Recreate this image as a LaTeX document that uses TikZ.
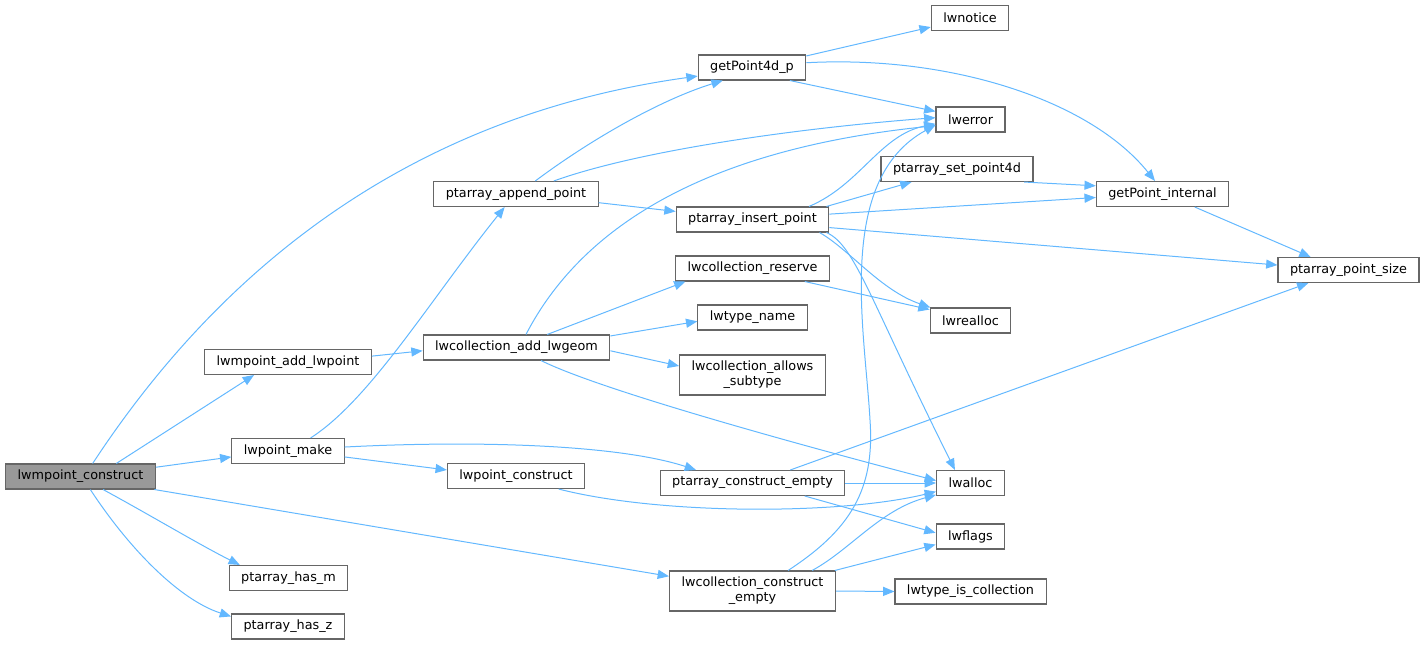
\documentclass[tikz,border=0pt]{standalone}
\usepackage{fontspec}
\setmainfont{DejaVu Sans}
\usetikzlibrary{arrows.meta}
\definecolor{edgeblue}{HTML}{63B8FF}
\definecolor{boxgray}{HTML}{666666}
\definecolor{rootgray}{HTML}{999999}

\begin{document}
\begin{tikzpicture}[x=0.75pt,y=-0.75pt,>={Triangle[length=8.5pt,width=6.8pt]},
  fn/.style={draw=boxgray,line width=0.8pt,fill=white,inner xsep=9pt,inner ysep=0pt,
    minimum height=18.75pt,font=\fontsize{9.6}{11.25}\selectfont,align=center},
  root/.style={fn,fill=rootgray},
  call/.style={->,edgeblue,line width=0.75pt}]
  \useasboundingbox (0,0) rectangle (1425,645);

  % column 0 and 1
  \node[root] (lwmpc) at (80.5,476.5) {lwmpoint\_construct};
  \node[fn] (addpt) at (288,362) {lwmpoint\_add\_lwpoint};
  \node[fn] (lwpmake) at (288,451) {lwpoint\_make};
  \node[fn] (hasm) at (288.5,578) {ptarray\_has\_m};
  \node[fn] (hasz) at (288,626.5) {ptarray\_has\_z};

  % column 2
  \node[fn] (append) at (516,194) {ptarray\_append\_point};
  \node[fn] (addgeom) at (516.5,347.5) {lwcollection\_add\_lwgeom};
  \node[fn] (lwpcons) at (516,476) {lwpoint\_construct};

  % column 3
  \node[fn] (gp4d) at (752,67.5) {getPoint4d\_p};
  \node[fn] (insert) at (752.5,219.5) {ptarray\_insert\_point};
  \node[fn] (reserve) at (752.5,268.5) {lwcollection\_reserve};
  \node[fn] (tname) at (752.5,317.5) {lwtype\_name};
  \node[fn,minimum height=30pt] (allows) at (752.5,375) {lwcollection\_allows\\\_subtype};
  \node[fn] (pcempty) at (752.5,483) {ptarray\_construct\_empty};
  \node[fn,minimum height=30pt] (ccempty) at (752.5,591) {lwcollection\_construct\\\_empty};

  % column 4
  \node[fn] (lwnotice) at (970,18) {lwnotice};
  \node[fn] (lwerror) at (970.5,119.5) {lwerror};
  \node[fn] (setp4d) at (957,169) {ptarray\_set\_point4d};
  \node[fn] (lwrealloc) at (970.5,320.5) {lwrealloc};
  \node[fn] (lwalloc) at (970.5,483) {lwalloc};
  \node[fn] (lwflags) at (970.5,536.5) {lwflags};
  \node[fn] (iscoll) at (970.5,591.5) {lwtype\_is\_collection};

  % column 5 and 6
  \node[fn] (gpint) at (1162.5,194) {getPoint\_internal};
  \node[fn] (ptsize) at (1348.5,270) {ptarray\_point\_size};

  % calls from lwmpoint_construct
  \draw[call] (lwmpc.47) .. controls (200,300) and (380,120) .. (gp4d.189);
  \draw[call] (lwmpc.20) -- (addpt.201);
  \draw[call] (lwmpc.7) -- (lwpmake.186);
  \draw[call] (lwmpc.350) -- (ccempty.170.5);
  \draw[call] (lwmpc.330) .. controls (150,515) and (200,545) .. (hasm.165);
  \draw[call] (lwmpc.307) .. controls (130,550) and (180,600) .. (hasz.170.5);

  % getPoint4d_p
  \draw[call] (gp4d.12.5) -- (lwnotice.193);
  \draw[call] (gp4d.341) -- (lwerror.167.7);
  \draw[call] (gp4d.5.8) .. controls (950,55) and (1090,100) .. (gpint.120);

  % ptarray_append_point
  \draw[call] (append.34.4) .. controls (590,140) and (660,100) .. (gp4d.204.8);
  \draw[call] (append.19.4) .. controls (640,150) and (800,128) .. (lwerror.177.5);
  \draw[call] (append.354) -- (insert.174.4);

  % ptarray_insert_point
  \draw[call] (insert.13.9) .. controls (860,185) and (880,135) .. (lwerror.187.4);
  \draw[call] (insert.10.5) -- (setp4d.196.8);
  \draw[call] (insert.4.9) -- (gpint.183.4);
  \draw[call] (insert.354.4) -- (ptsize.176);
  \draw[call] (insert.349.5) .. controls (850,250) and (880,290) .. (lwrealloc.162.8);
  \draw[call] (insert.350.3) .. controls (855,245) and (870,300) .. (lwalloc.140);
  \draw[call] (setp4d.349.6) -- (gpint.173);
  \draw[call] (gpint.338) -- (ptsize.161.3);

  % lwcollection_add_lwgeom
  \draw[call] (addpt.4) -- (addgeom.182.7);
  \draw[call] (addgeom.54.9) .. controls (580,230) and (700,150) .. (lwerror.190.7);
  \draw[call] (addgeom.23.2) -- (reserve.191.3);
  \draw[call] (addgeom.7.5) -- (tname.184.6);
  \draw[call] (addgeom.358.5) -- (allows.173);
  \draw[call] (addgeom.332) .. controls (600,390) and (800,445) .. (lwalloc.176.7);
  \draw[call] (reserve.346.8) -- (lwrealloc.165.5);

  % lwpoint_make
  \draw[call] (lwpmake.30.6) .. controls (370,400) and (430,300) .. (append.229.8);
  \draw[call] (lwpmake.354) -- (lwpcons.175);
  \draw[call] (lwpmake.4) .. controls (480,440) and (620,445) .. (pcempty.167.7);
  \draw[call] (lwpcons.343.5) .. controls (660,515) and (840,515) .. (lwalloc.194.6);

  % ptarray_construct_empty
  \draw[call] (pcempty.19) -- (ptsize.198.7);
  \draw[call] (pcempty.east) -- (lwalloc.west);
  \draw[call] (pcempty.346) -- (lwflags.174.2);

  % lwcollection_construct_empty
  \draw[call] (ccempty.30) .. controls (850,530) and (875,490) .. (870,420)
    .. controls (865,330) and (835,180) .. (lwerror.189);
  \draw[call] (ccempty.19.8) .. controls (850,550) and (880,510) .. (lwalloc.199.2);
  \draw[call] (ccempty.14.5) -- (lwflags.193.8);
  \draw[call] (ccempty.east) -- (iscoll.west);
\end{tikzpicture}
\end{document}
